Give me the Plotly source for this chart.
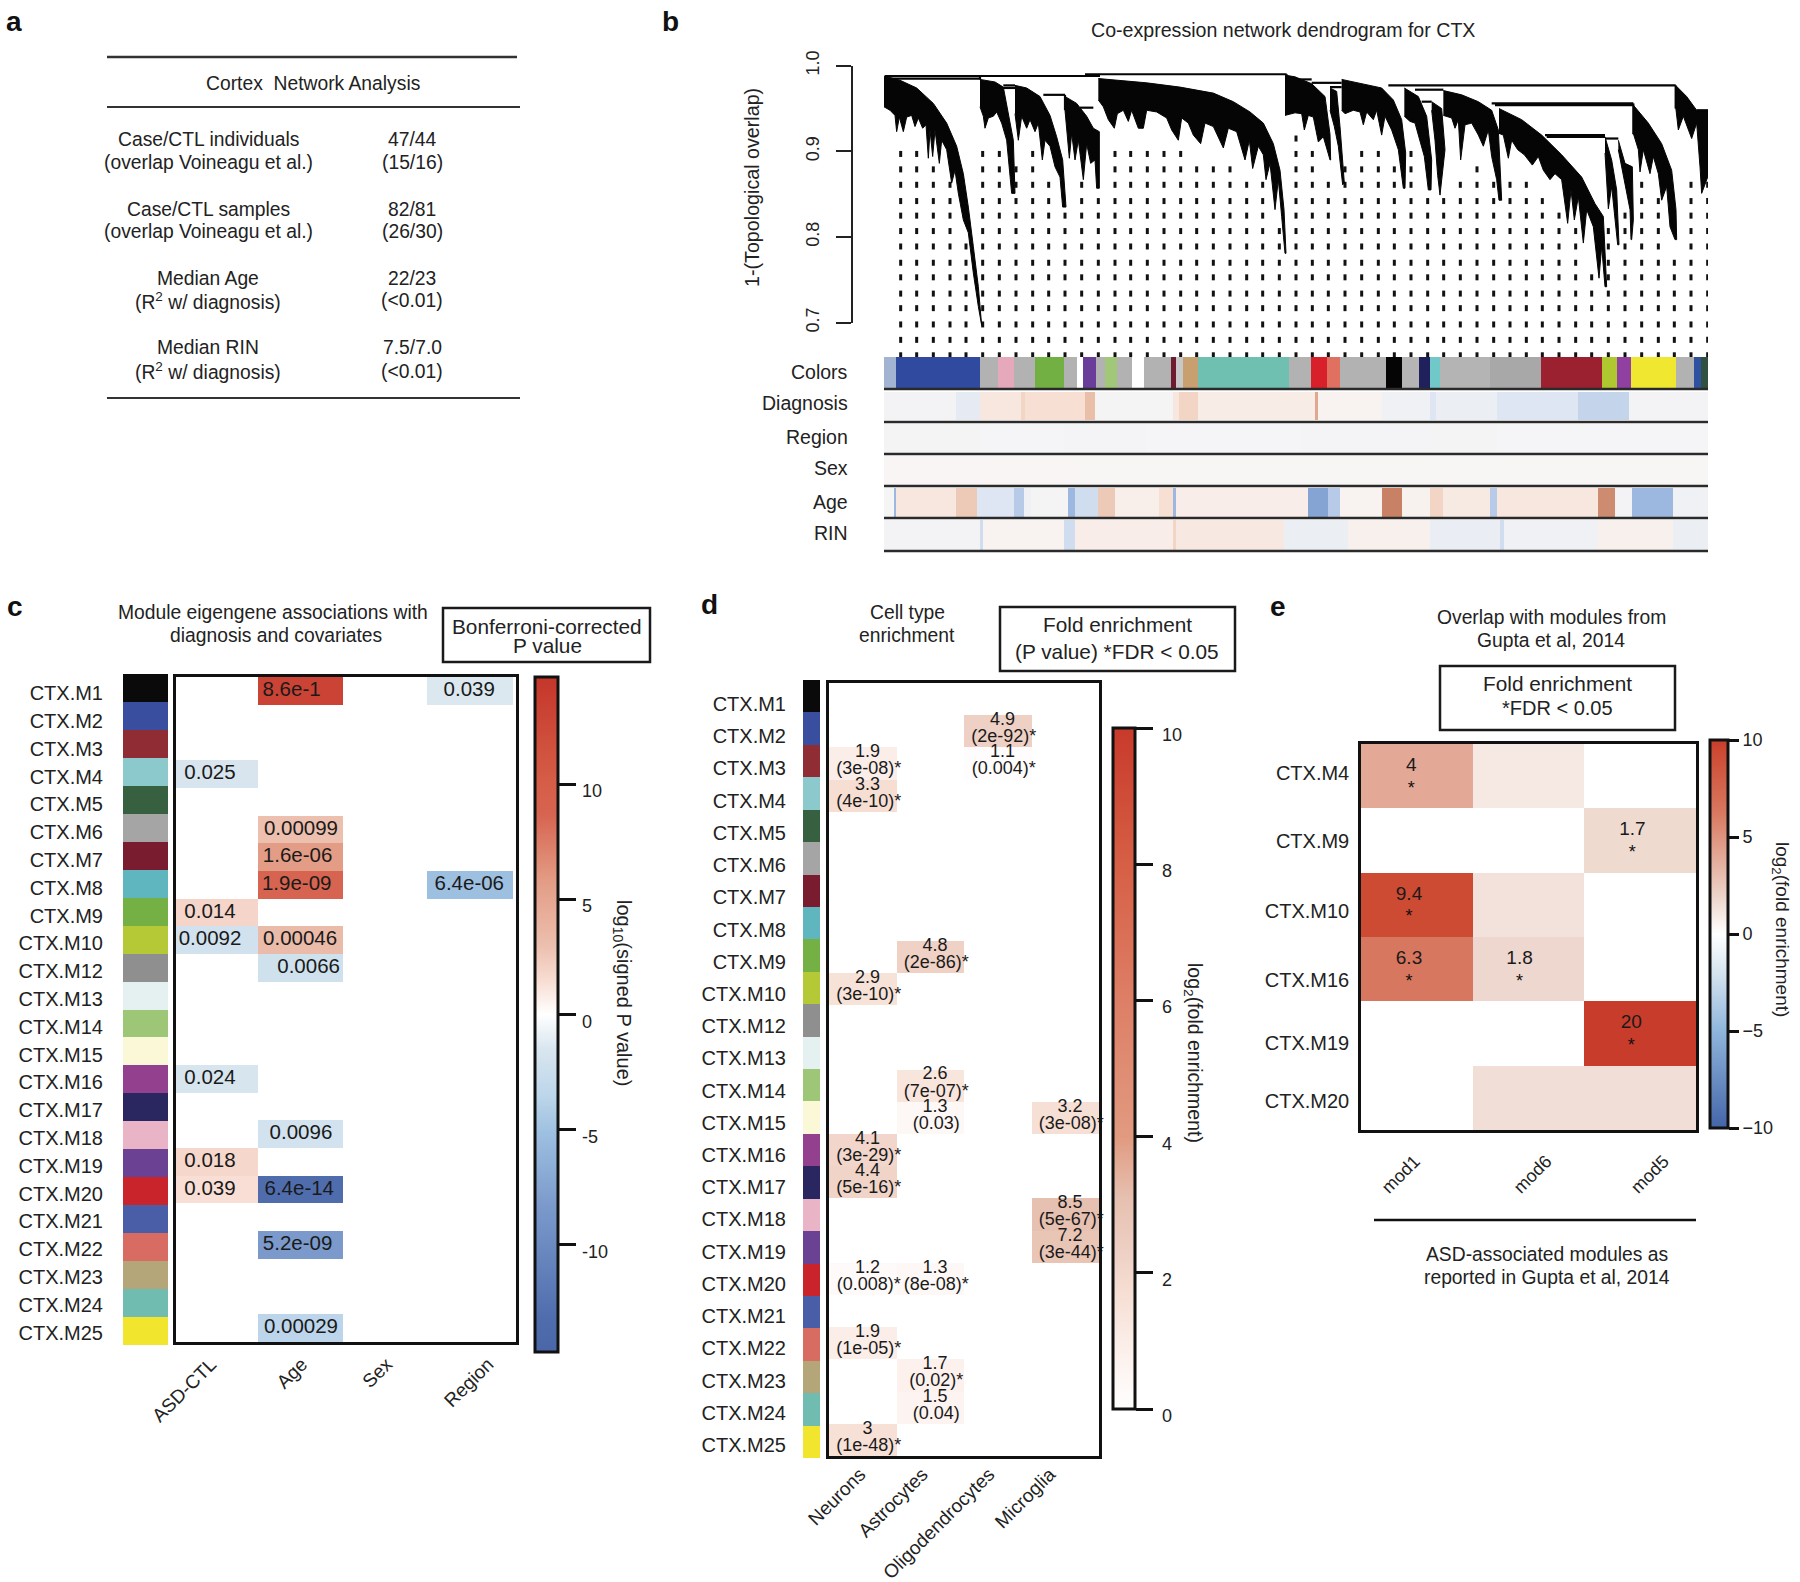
import plotly.graph_objects as go

W, H = 1800, 1582
FONT = "Liberation Sans, Arial, sans-serif"
INK = "#222222"

# ---------- panel a ----------
a_heading = "Cortex  Network Analysis"
a_left = ["Case/CTL individuals", "(overlap Voineagu et al.)",
          "Case/CTL samples", "(overlap Voineagu et al.)",
          "Median Age", "(R<sup>2</sup> w/ diagnosis)",
          "Median RIN", "(R<sup>2</sup> w/ diagnosis)"]
a_right = ["47/44", "(15/16)", "82/81", "(26/30)", "22/23", "(<0.01)", "7.5/7.0", "(<0.01)"]

# ---------- panel b: dendrogram (x = gene order, y = 1-TOM) ----------
dendro_top = [
    [(12,.988),(60,.983),(110,.974),(160,.956),(200,.933),(230,.906),(250,.874),(265,.835),(280,.789),(295,.742),(305,.697)],
    [(300,.984),(345,.981),(370,.975),(385,.942),(400,.913),(405,.851)],
    [(405,.977),(440,.974),(480,.964),(510,.942),(530,.917),(548,.890),(558,.835)],
    [(555,.964),(590,.956),(620,.941),(640,.927),(658,.923),(658,.857)],
    [(655,.985),(800,.980),(900,.975),(1000,.968),(1060,.958),(1110,.946),(1150,.933),(1180,.909),(1200,.878),(1212,.832),(1218,.781)],
    [(1215,.989),(1245,.987),(1295,.979),(1335,.964),(1350,.920),(1352,.890)],
    [(1350,.974),(1370,.970),(1380,.929),(1393,.863)],
    [(1385,.984),(1445,.979),(1505,.974),(1540,.960),(1565,.937),(1577,.898),(1575,.857)],
    [(1573,.974),(1615,.964),(1640,.941),(1655,.890),(1653,.855)],
    [(1655,.958),(1685,.950),(1695,.902),(1682,.849)],
    [(1690,.971),(1745,.966),(1795,.958),(1835,.948),(1855,.925),(1865,.843)],
    [(1857,.950),(1925,.937),(1985,.919),(2045,.896),(2105,.870),(2145,.839),(2170,.824),(2180,.742)],
    [(2175,.917),(2195,.890),(2210,.855),(2217,.791)],
    [(2215,.913),(2235,.886),(2257,.882),(2260,.820),(2255,.797)],
    [(2260,.954),(2305,.933),(2345,.909),(2375,.878),(2388,.832),(2390,.797)],
    [(2387,.977),(2420,.964),(2450,.948),(2485,.947),(2485,.872),(2467,.851)],
]
dendro_bottom = [
    [(12,.952),(30,.948),(45,.942),(50,.923),(58,.940),(70,.923),(80,.940),(95,.942),(105,.929),(115,.939),(128,.927),(138,.931),(145,.892),(150,.925),(158,.894),(165,.925),(170,.913),(178,.886),(185,.913),(200,.902),(215,.863),(225,.878),(235,.851),(250,.820),(265,.805),(280,.758),(295,.719)],
    [(300,.952),(310,.941),(315,.927),(325,.939),(340,.941),(350,.946),(365,.933),(380,.913),(395,.851)],
    [(405,.944),(415,.913),(425,.941),(440,.927),(450,.937),(465,.923),(475,.933),(487,.890),(495,.913),(510,.906),(525,.882),(540,.870),(548,.835)],
    [(555,.948),(562,.917),(568,.892),(575,.921),(585,.890),(595,.913),(610,.867),(620,.909),(632,.886),(645,.890),(650,.857)],
    [(655,.960),(670,.952),(685,.937),(703,.927),(712,.944),(730,.948),(745,.935),(755,.948),(775,.927),(790,.927),(800,.948),(830,.946),(860,.939),(875,.925),(895,.913),(905,.939),(925,.933),(940,.919),(962,.909),(975,.933),(1000,.929),(1030,.904),(1045,.927),(1070,.923),(1095,.890),(1108,.913),(1118,.880),(1135,.906),(1150,.896),(1158,.867),(1170,.886),(1185,.832),(1195,.867),(1205,.824),(1215,.781)],
    [(1215,.942),(1245,.945),(1265,.944),(1273,.925),(1285,.942),(1300,.940),(1315,.911),(1330,.917),(1345,.897),(1350,.890)],
    [(1350,.948),(1363,.929),(1375,.906),(1388,.861)],
    [(1385,.948),(1395,.944),(1420,.948),(1440,.946),(1450,.931),(1460,.946),(1480,.937),(1490,.948),(1505,.919),(1515,.941),(1535,.925),(1555,.902),(1570,.857)],
    [(1573,.941),(1590,.935),(1605,.933),(1620,.913),(1633,.894),(1645,.855)],
    [(1655,.948),(1665,.913),(1673,.872),(1680,.849)],
    [(1690,.942),(1715,.939),(1725,.927),(1735,.937),(1742,.890),(1755,.931),(1775,.933),(1795,.919),(1810,.906),(1825,.925),(1835,.894),(1850,.867),(1857,.843)],
    [(1857,.921),(1870,.919),(1885,.892),(1895,.913),(1913,.902),(1933,.896),(1957,.884),(1975,.894),(1990,.878),(2010,.867),(2025,.874),(2045,.867),(2063,.816),(2073,.855),(2083,.820),(2095,.847),(2110,.793),(2120,.832),(2140,.812),(2157,.752),(2165,.789),(2175,.742)],
    [(2175,.898),(2185,.833),(2195,.859),(2203,.832),(2213,.791)],
    [(2215,.902),(2230,.874),(2240,.851),(2250,.832),(2253,.797)],
    [(2260,.921),(2275,.902),(2280,.876),(2290,.902),(2310,.874),(2320,.894),(2335,.874),(2345,.843),(2360,.859),(2370,.812),(2385,.797)],
    [(2387,.952),(2395,.925),(2410,.941),(2435,.915),(2450,.933),(2460,.882),(2465,.851)],
]
connector_x0 = [15,15,615,1220,300,1295,1350,1245,1525,2387,1605,1625,1835,1845,2260,1995,2000,2175,2450,370,370,490,555,600]
connector_x1 = [660,300,1220,1220,300,1385,1385,1295,2387,2387,1690,1655,2260,2260,2260,2175,2175,2215,2485,405,405,555,555,640]
connector_h0 = [.988,.985,.990,.990,.988,.980,.975,.984,.977,.977,.972,.958,.956,.954,.956,.919,.917,.915,.948,.977,.974,.966,.966,.951]
connector_h1 = [.988,.985,.990,.980,.984,.980,.975,.984,.977,.950,.972,.958,.956,.954,.920,.919,.917,.915,.948,.977,.974,.966,.948,.951]

guide_x = [62,110,160,210,258,308,358,408,458,506,555,605,655,705,752,802,852,902,950,1000,1050,1100,1148,1198,1248,
           1297,1345,1395,1445,1495,1543,1593,1643,1691,1741,1791,1841,1890,1939,1987,2037,2087,2135,2185,2235,2285,2335,2383,2433,2483]
guide_rows = [.915,.897,.879,.861,.842,.825,.807,.789,.770,.753,.734,.717,.698,.680,.662]
guide_start = [.897,.897,.879,.861,.789,.897,.897,.879,.897,.861,.825,.861,.842,.897,.897,.897,.897,.897,.879,.879,.879,.861,.861,.807,.915,
               .897,.861,.879,.897,.897,.879,.897,.842,.842,.861,.879,.861,.861,.861,.842,.825,.807,.753,.807,.825,.861,.842,.770,.861,.861]
b_ticks = [0.7, 0.8, 0.9, 1.0]

colors_edges = [213,231,355,382,405,437,480,498,508,527,540,558,580,598,637,645,655,677,812,845,868,888,955,980,1005,1021,1035,1110,1185,1275,1297,1318,1384,1412,1422,1432]
colors_vals = ["#a3b4d2","#2f4a9e","#b2b2b2","#e6a9bb","#b2b2b2","#72b044","#b2b2b2","#ffffff","#6a3d9a","#b2b2b2","#a0c878","#b2b2b2","#ffffff","#b2b2b2","#701c30","#c8c8c8","#c8a070","#6fc0b0","#b2b2b2","#d8202a","#e07060","#b2b2b2","#050505","#b5b5b5","#20205c","#70c8c8","#b4b4b4","#a8a8a8","#9b2030","#b0c830","#9040a0","#f0e830","#b2b2b2","#3050a0","#305040"]

diag_edges = [213,320,355,415,422,480,510,525,640,650,678,850,855,950,1020,1030,1120,1240,1315,1432]
diag_vals = [-.3,-1,1,2,1.5,1.5,3,-.2,1,2,.7,4,.2,-.5,-1.5,-.7,-1.5,-2.5,-.3]
region_edges = [213,355,480,600,830,1020,1120,1432]
region_vals = [-.2,-.15,-.25,-.15,-.25,-.2,-.15]
sex_edges = [213,500,900,1432]
sex_vals = [.08,.05,.05]
age_edges = [213,228,231,320,350,405,420,430,485,495,530,555,620,640,645,840,870,888,950,980,1020,1040,1110,1120,1270,1295,1320,1380,1432]
age_vals = [-.1,-4,1,2.5,-1.5,-3,-.5,-.2,-4,-2,2.5,.5,1.5,-4,.6,-5,-3,.2,6,.3,2,.8,-3,1,5.5,-.3,-4,-.5]
rin_edges = [213,355,360,480,495,640,645,805,900,1020,1125,1130,1270,1380,1432]
rin_vals = [-.3,-2,.2,-2,.6,2,.9,-.7,.4,-.8,-2,-.5,.4,-.7]
row_names = ["Colors", "Diagnosis", "Region", "Sex", "Age", "RIN"]

# ---------- panels c / d ----------
modules = ["CTX.M1","CTX.M2","CTX.M3","CTX.M4","CTX.M5","CTX.M6","CTX.M7","CTX.M8","CTX.M9","CTX.M10","CTX.M12","CTX.M13",
           "CTX.M14","CTX.M15","CTX.M16","CTX.M17","CTX.M18","CTX.M19","CTX.M20","CTX.M21","CTX.M22","CTX.M23","CTX.M24","CTX.M25"]
module_colors = ["#0a0a0a","#3a4ea0","#8f2c34","#8cc9cd","#36603f","#a5a5a5","#7a1c30","#5fb6be","#75b045","#b4c935","#8f8f8f","#e4f1f0",
                 "#9dc777","#fbf8d8","#93408f","#2a2660","#e9b5c6","#6b4194","#c9242c","#4a5ea8","#d86c62","#b5a67a","#70bcb0","#f2e52e"]
_ = None
c_asd = [_,_,_,-1.6,_,_,_,_,1.85,-2.04,_,_,_,_,-1.62,_,_,1.74,1.41,_,_,_,_,_]
c_age = [13.1,_,_,_,_,3.0,5.8,8.72,_,3.34,-2.18,_,_,_,_,_,-2.02,_,-13.2,_,-8.28,_,_,-3.54]
c_sex = [_]*24
c_region = [-1.41,_,_,_,_,_,_,-5.19,_,_,_,_,_,_,_,_,_,_,_,_,_,_,_,_]
c_columns = ["ASD-CTL", "Age", "Sex", "Region"]
c_label_x = [.86,2.95,-.1,.97,.93,.92,-.1,-.1,.96,2.95,-.1,-.1,1.06,.97,-.1,.95,.93,.97]
c_label_row = [0,0,3,5,6,7,8,9,9,7,14,17,10,16,18,18,20,23]
c_labels = ["8.6e-1","0.039","0.025","0.00099","1.6e-06","1.9e-09","0.014","0.0092","0.00046","6.4e-06","0.024","0.018","0.0066","0.0096","0.039","6.4e-14","5.2e-09","0.00029"]
c_cbar_vals = [10, 5, 0, -5, -10]
c_cbar_text = ["10", "5", "0", "-5", "-10"]

d_columns = ["Neurons", "Astrocytes", "Oligodendrocytes", "Microglia"]
d_neurons = [_,_,1.9,3.3,_,_,_,_,_,2.9,_,_,_,_,4.1,4.4,_,_,1.2,_,1.9,_,_,3]
d_astro = [_,_,_,_,_,_,_,_,4.8,_,_,_,2.6,1.3,_,_,_,_,1.3,_,_,1.7,1.5,_]
d_oligo = [_,4.9,1.1,_,_,_,_,_,_,_,_,_,_,_,_,_,_,_,_,_,_,_,_,_]
d_micro = [_,_,_,_,_,_,_,_,_,_,_,_,_,3.2,_,_,8.5,7.2,_,_,_,_,_,_]
d_neurons_p = [_,_,"(3e-08)*","(4e-10)*",_,_,_,_,_,"(3e-10)*",_,_,_,_,"(3e-29)*","(5e-16)*",_,_,"(0.008)*",_,"(1e-05)*",_,_,"(1e-48)*"]
d_astro_p = [_,_,_,_,_,_,_,_,"(2e-86)*",_,_,_,"(7e-07)*","(0.03)",_,_,_,_,"(8e-08)*",_,_,"(0.02)*","(0.04)",_]
d_oligo_p = [_,"(2e-92)*","(0.004)*",_,_,_,_,_,_,_,_,_,_,_,_,_,_,_,_,_,_,_,_,_]
d_micro_p = [_,_,_,_,_,_,_,_,_,_,_,_,_,"(3e-08)*",_,_,"(5e-67)*","(3e-44)*",_,_,_,_,_,_]
d_log2_neurons = [_,_,.93,1.72,_,_,_,_,_,1.54,_,_,_,_,2.04,2.14,_,_,.26,_,.93,_,_,1.58]
d_log2_astro = [_,_,_,_,_,_,_,_,2.26,_,_,_,1.38,.38,_,_,_,_,.38,_,_,.77,.58,_]
d_log2_oligo = [_,2.29,.14,_,_,_,_,_,_,_,_,_,_,_,_,_,_,_,_,_,_,_,_,_]
d_log2_micro = [_,_,_,_,_,_,_,_,_,_,_,_,_,1.68,_,_,3.09,2.85,_,_,_,_,_,_]
d_cbar_vals = [0, 2, 4, 6, 8, 10]

# ---------- panel e ----------
e_modules = ["CTX.M4","CTX.M9","CTX.M10","CTX.M16","CTX.M19","CTX.M20"]
e_columns = ["mod1", "mod6", "mod5"]
e_mod1 = [4, 0, 9.4, 6.3, 0, 0]
e_mod6 = [1, 0, 1.3, 1.8, 0, 1.5]
e_mod5 = [0, 1.7, 0, 0, 20, 1.5]
e_label_x = [-.05,1.93,-.07,-.07,.92,1.92]
e_label_y = [0,1,2,3,3,4]
e_labels = ["4","1.7","9.4","6.3","1.8","20"]

# ---------- colour scales ----------
def scale(stops, lo, hi):
    return [[(v - lo) / (hi - lo), c] for v, c in stops]

c_scale = scale([(-14.65,"#4a66a8"),(-13.2,"#4f6dad"),(-8.3,"#7b9acb"),(-5.2,"#9dbfe0"),(-3.5,"#bdd6ea"),(-1.5,"#d9e6ef"),(0,"#ffffff"),
                 (1.5,"#f8dcd2"),(3,"#ecbfae"),(5.8,"#e39c85"),(8.7,"#d66450"),(10,"#d65e48"),(14.65,"#c4362a")], -14.65, 14.65)
d_scale = scale([(0,"#ffffff"),(.93,"#fbeee9"),(1.72,"#f6ded3"),(2.3,"#eed0c4"),(3.1,"#e6c0b0"),(4,"#e19a80"),(6,"#dd7f66"),(8,"#d65f45"),(10,"#c83a2a")], 0, 10)
e_scale = scale([(-10,"#4465a8"),(-5,"#8fb5dc"),(-2,"#d6e4ef"),(0,"#ffffff"),(2,"#ecd3c8"),(4,"#e3a896"),(6.3,"#d8775f"),(9.4,"#cd4a33"),(10,"#c83c2c")], -10, 10)
strip_scale = scale([(-8,"#3d63ad"),(-4,"#9db8e0"),(-1.5,"#dde6f2"),(0,"#f8f6f6"),(1.5,"#f7e0d3"),(4,"#dfa98f"),(8,"#b0583a")], -8, 8)

# ---------- helpers ----------
fig = go.Figure()
layout_axes = {}
annotations = []
shapes = []
axis_n = 1

OFF = dict(showgrid=False, zeroline=False, showticklabels=False, ticks="", showline=False)

def axes(x0, x1, y0, y1, xkw=None, ykw=None):
    global axis_n
    axis_n += 1
    n = axis_n
    xname, yname = f"x{n}", f"y{n}"
    layout_axes[f"xaxis{n}"] = dict(domain=[x0 / W, x1 / W], anchor=yname, **(xkw or OFF))
    layout_axes[f"yaxis{n}"] = dict(domain=[1 - y1 / H, 1 - y0 / H], anchor=xname, **(ykw or OFF))
    return xname, yname

def txt(x, y, s, size=19.3, anchor="center", angle=0, bold=False, color=INK):
    annotations.append(dict(x=x / W, y=1 - y / H, xref="paper", yref="paper", text=f"<b>{s}</b>" if bold else s,
                            showarrow=False, xanchor=anchor, yanchor="middle", textangle=angle,
                            font=dict(family=FONT, size=size, color=color), align="center"))

def line(x0, y0, x1, y1, width=2, color="#1a1a1a"):
    shapes.append(dict(type="line", xref="paper", yref="paper", x0=x0 / W, x1=x1 / W, y0=1 - y0 / H, y1=1 - y1 / H,
                       line=dict(color=color, width=width)))

def box(x0, y0, x1, y1, width=2.5):
    shapes.append(dict(type="rect", xref="paper", yref="paper", x0=x0 / W, x1=x1 / W, y0=1 - y0 / H, y1=1 - y1 / H,
                       line=dict(color="#1a1a1a", width=width)))

def colorbar(x, y0, y1, thick, vals, text, ticklen, labels=True):
    return dict(x=x / W, xanchor="left", xpad=0, ypad=0, y=1 - y1 / H, yanchor="bottom", lenmode="pixels", len=y1 - y0,
                thicknessmode="pixels", thickness=thick, tickmode="array", tickvals=vals, ticktext=text, showticklabels=labels,
                ticks="outside", ticklen=ticklen, tickwidth=3, tickcolor="#111111", outlinecolor="#111111", outlinewidth=3,
                tickfont=dict(family=FONT, size=18, color=INK))

# ---------- panel labels ----------
for s, x, y in [("a", 14, 21), ("b", 670, 21), ("c", 15, 606), ("d", 709, 605), ("e", 1278, 606)]:
    txt(x, y, s, size=28, bold=True, color="#111111")

# ---------- panel a ----------
line(107, 57, 517, 57, 2.5, "#333333")
line(107, 107, 520, 107, 2, "#333333")
line(107, 398, 520, 398, 2, "#333333")
txt(313, 83, a_heading)
for i, (ty, l, r) in enumerate(zip([139, 162, 209, 232, 278, 301, 348, 371], a_left, a_right)):
    txt(208, ty, l)
    txt(412, ty, r)

# ---------- panel b ----------
txt(1283, 30, "Co-expression network dendrogram for CTX", size=19.6)
txt(752, 188, "1-(Topological overlap)", size=19.7, angle=-90)

bx0, bx1 = 884, 1708
xr = [213, 1432]
ur = [12, 2484]
dx, dy = axes(bx0, bx1, 60, 357, dict(OFF, range=ur), dict(OFF, range=[.66, 1.00665]))
gx, gy = [], []
for xv, start in zip(guide_x, guide_start):
    for rv in guide_rows:
        if rv <= start:
            gx += [xv, xv, None]
            gy += [rv + .0035, rv - .0035, None]
fig.add_trace(go.Scatter(x=gx, y=gy, mode="lines", cliponaxis=False, line=dict(color="#111111", width=3), xaxis=dx, yaxis=dy))
for top, bottom in zip(dendro_top, dendro_bottom):
    pts = top + bottom[::-1]
    fig.add_trace(go.Scatter(x=[p[0] for p in pts], y=[p[1] for p in pts], mode="lines", fill="toself", cliponaxis=False,
                             fillcolor="#050505", line=dict(color="#050505", width=1), xaxis=dx, yaxis=dy))
cx, cy = [], []
for a0, a1, h0, h1 in zip(connector_x0, connector_x1, connector_h0, connector_h1):
    cx += [a0, a1, None]
    cy += [h0, h1, None]
fig.add_trace(go.Scatter(x=cx, y=cy, mode="lines", cliponaxis=False, line=dict(color="#050505", width=2.2), xaxis=dx, yaxis=dy))

tx_, ty_ = axes(bx0, bx1, 65.7, 322.7, dict(OFF, range=ur),
                dict(range=[.7, 1.0], tickvals=b_ticks, ticktext=[f"{v:.1f}" for v in b_ticks], tickangle=-90,
                     showgrid=False, zeroline=False, showline=True, linecolor="#222222", linewidth=2,
                     ticks="outside", ticklen=15, tickwidth=2, tickcolor="#222222", ticklabelstandoff=10,
                     tickfont=dict(family=FONT, size=18, color=INK)))
layout_axes[f"yaxis{axis_n}"].update(anchor="free", position=852 / W)
fig.add_trace(go.Scatter(x=[15], y=[.8], mode="markers", marker=dict(opacity=0, size=1), xaxis=tx_, yaxis=ty_))

# colours strip
sx, sy = axes(bx0, bx1, 357, 388, dict(OFF, range=xr), dict(OFF, range=[0, 1]))
fig.add_trace(go.Bar(x=[(a + b) / 2 for a, b in zip(colors_edges[:-1], colors_edges[1:])], y=[1] * len(colors_vals),
                     width=[b - a for a, b in zip(colors_edges[:-1], colors_edges[1:])],
                     marker=dict(color=colors_vals, line=dict(width=0)), xaxis=sx, yaxis=sy))
row_specs = [(diag_edges, diag_vals, 392, 420), (region_edges, region_vals, 424, 453), (sex_edges, sex_vals, 456, 485),
             (age_edges, age_vals, 488, 517), (rin_edges, rin_vals, 520, 550)]
for edges, vals, y0, y1 in row_specs:
    rx, ry = axes(bx0, bx1, y0, y1, dict(OFF, range=xr), dict(OFF, range=[-.5, .5]))
    fig.add_trace(go.Heatmap(x=edges, z=[vals], y=[0], zmin=-8, zmax=8, colorscale=strip_scale, showscale=False, xaxis=rx, yaxis=ry))
for ly in [389, 422, 454, 486, 518, 551]:
    line(bx0, ly, bx1, ly, 2.5, "#2a2a2a")
for name, ly in zip(row_names, [372, 403, 437, 468, 502, 533]):
    txt(850, ly, name, anchor="right", size=19.5)

# ---------- module colour strips ----------
def module_strip(x0, x1, y0, y1, shift, step, right_gap):
    xn, yn = axes(x0, x1, y0, y1, dict(OFF, range=[0, 1]),
                  dict(range=[23.5, -.5], tickvals=[shift + i * step for i in range(24)], ticktext=modules,
                       showgrid=False, zeroline=False, showline=False, ticks="outside", ticklen=right_gap,
                       tickcolor="rgba(0,0,0,0)", tickfont=dict(family=FONT, size=20, color=INK)))
    fig.add_trace(go.Bar(y=list(range(24)), x=[1] * 24, width=1, orientation="h",
                         marker=dict(color=module_colors, line=dict(width=0)), xaxis=xn, yaxis=yn))

def boxed_axes(x0, x1, y0, y1, xr_, yr_, tickvals, ticktext, ticklen, standoff=0):
    kw = dict(showgrid=False, zeroline=False, showline=True, mirror=True, linecolor="#111111", linewidth=2.5)
    return axes(x0, x1, y0, y1,
                dict(kw, range=xr_, tickvals=tickvals, ticktext=ticktext, tickangle=-45, ticks="outside", ticklen=ticklen,
                     ticklabelstandoff=standoff, tickcolor="rgba(0,0,0,0)", tickfont=dict(family=FONT, size=19, color=INK)),
                dict(kw, range=yr_, showticklabels=False, ticks=""))

# ---------- panel c ----------
txt(273, 612, "Module eigengene associations with")
txt(276, 635, "diagnosis and covariates")
box(443, 608, 650, 662)
txt(547, 626, "Bonferroni-corrected", size=20.8)
txt(547, 645, "P value", size=20.8)
module_strip(123, 168, 674, 1345, .19, .9943, 15)
cxn, cyn = boxed_axes(176, 516, 677, 1342, [-.5, 3.5], [23.5, -.5], [-.09, .98, 1.98, 3.17], c_columns, 1)
fig.add_trace(go.Heatmap(z=[list(r) for r in zip(c_asd, c_age, c_sex, c_region)], x=[-.5, .465, 1.465, 2.455, 3.465],
                         y=list(range(24)), zmin=-14.65, zmax=14.65, colorscale=c_scale, xaxis=cxn, yaxis=cyn,
                         colorbar=colorbar(535, 677, 1352, 23, c_cbar_vals, c_cbar_text, 17, labels=False)))
fig.add_trace(go.Scatter(x=c_label_x, y=c_label_row, text=c_labels, mode="text", cliponaxis=False,
                         textfont=dict(family=FONT, size=20.5, color="#1a1a1a"), xaxis=cxn, yaxis=cyn))
for v, s in zip(c_cbar_vals, c_cbar_text):
    txt(580, 677 + (14.65 - v) / 29.3 * 675 + 7, s, size=18, anchor="left")
txt(623, 993, "log<sub>10</sub>(signed P value)", size=20, angle=90)

# ---------- panel d ----------
txt(907, 612, "Cell type")
txt(907, 635, "enrichment")
box(1000, 607, 1235, 671)
txt(1117, 624, "Fold enrichment", size=20.8)
txt(1117, 651, "(P value) *FDR < 0.05", size=20.8)
module_strip(803, 820, 680, 1458, .24, .9938, 12)
dxn, dyn = boxed_axes(829, 1099, 683, 1456, [-.5, 3.5], [23.5, -.5], [-.04, .88, 1.87, 2.77], d_columns, 1, -4)
fig.add_trace(go.Heatmap(z=[list(r) for r in zip(d_log2_neurons, d_log2_astro, d_log2_oligo, d_log2_micro)],
                         x=[0, 1, 2, 3], y=list(range(24)), zmin=0, zmax=10, colorscale=d_scale, xaxis=dxn, yaxis=dyn,
                         colorbar=colorbar(1113, 728, 1409, 22, d_cbar_vals, [str(v) for v in d_cbar_vals], 17, labels=False)))
for col, (folds, ps) in enumerate(zip([d_neurons, d_astro, d_oligo, d_micro], [d_neurons_p, d_astro_p, d_oligo_p, d_micro_p])):
    rows = [i for i, v in enumerate(folds) if v is not None]
    fig.add_trace(go.Scatter(x=[col + .07] * len(rows), y=[i - .33 for i in rows], text=[str(folds[i]) for i in rows],
                             mode="text", cliponaxis=False, textfont=dict(family=FONT, size=18, color="#1a1a1a"), xaxis=dxn, yaxis=dyn))
    fig.add_trace(go.Scatter(x=[col + .09] * len(rows), y=[i + .2 for i in rows], text=[ps[i] for i in rows],
                             mode="text", cliponaxis=False, textfont=dict(family=FONT, size=18, color="#1a1a1a"), xaxis=dxn, yaxis=dyn))
for v in d_cbar_vals:
    txt(1160, 1409 - v / 10 * 681 + 7, str(v), size=18, anchor="left")
txt(1194, 1053, "log<sub>2</sub>(fold enrichment)", size=19.5, angle=90)

# ---------- panel e ----------
txt(1551, 617, "Overlap with modules from")
txt(1551, 640, "Gupta et al, 2014")
box(1440, 666, 1675, 730)
txt(1557, 683, "Fold enrichment", size=20.8)
txt(1557, 708, "*FDR < 0.05", size=20)
kw = dict(showgrid=False, zeroline=False, showline=True, mirror=True, linecolor="#111111", linewidth=2.5)
exn, eyn = axes(1361, 1696, 744, 1130,
                dict(kw, range=[-.5, 2.5], tickvals=[-.02, 1.16, 2.21], ticktext=e_columns, tickangle=-45, ticks="outside", ticklen=11,
                     tickcolor="rgba(0,0,0,0)", tickfont=dict(family=FONT, size=18, color=INK)),
                dict(kw, range=[5.5, -.5], tickvals=[-.05, 1, 2.1, 3.17, 4.14, 5.05], ticktext=e_modules, ticks="outside",
                     ticklen=5, tickcolor="rgba(0,0,0,0)", tickfont=dict(family=FONT, size=20, color=INK)))
fig.add_trace(go.Heatmap(z=[list(r) for r in zip(e_mod1, e_mod6, e_mod5)], x=[0, 1, 2], y=list(range(6)), zmin=-10, zmax=10,
                         colorscale=e_scale, xaxis=exn, yaxis=eyn,
                         colorbar=colorbar(1710, 740, 1128, 18, [10, 5, 0, -5, -10], ["10", "5", "0", "\u22125", "\u221210"], 10)))
fig.add_trace(go.Scatter(x=e_label_x, y=[v - .155 for v in e_label_y], text=e_labels, mode="text", cliponaxis=False,
                         textfont=dict(family=FONT, size=19, color="#1a1a1a"), xaxis=exn, yaxis=eyn))
fig.add_trace(go.Scatter(x=e_label_x, y=[v + .2 for v in e_label_y], text=["*"] * len(e_labels), mode="text", cliponaxis=False,
                         textfont=dict(family=FONT, size=18, color="#111111"), xaxis=exn, yaxis=eyn))
txt(1781, 929, "log<sub>2</sub>(fold enrichment)", size=19, angle=90)
line(1374, 1220, 1696, 1220, 2.5, "#111111")
txt(1547, 1254, "ASD-associated modules as")
txt(1547, 1277, "reported in Gupta et al, 2014")

fig.update_layout(width=W, height=H, autosize=False, margin=dict(l=0, r=0, t=0, b=0, autoexpand=False),
                  paper_bgcolor="white", plot_bgcolor="rgba(0,0,0,0)",
                  showlegend=False, hovermode=False, barmode="overlay", bargap=0, annotations=annotations, shapes=shapes,
                  font=dict(family=FONT, color=INK), **layout_axes)
fig.write_html("out.html", config={"displayModeBar": False},
               post_script="document.body.style.margin='0';document.documentElement.style.overflow='hidden';")
